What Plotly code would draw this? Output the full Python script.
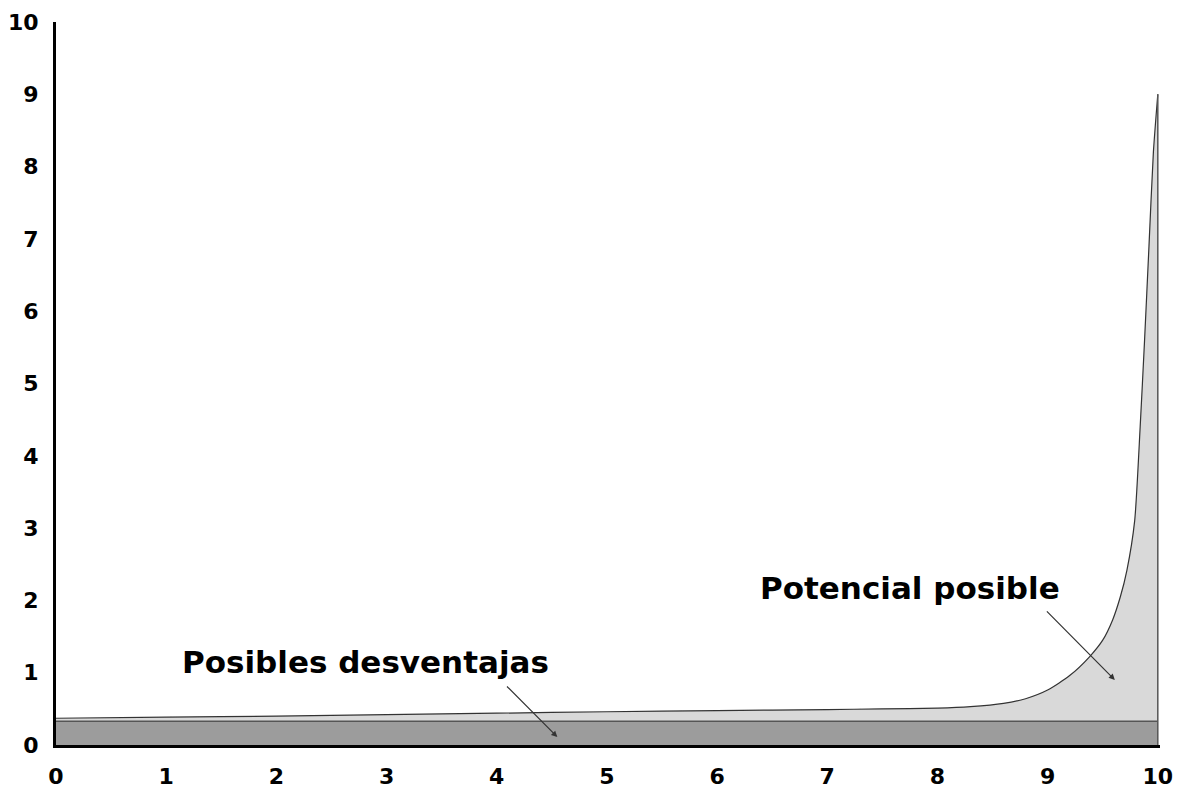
import plotly.graph_objects as go

# Data
band_x = [0, 10]
band_y = [0.33, 0.33]

curve_x = [0, 1, 2, 3, 4, 5, 6, 7, 7.5, 8, 8.3, 8.6, 8.8, 9.0, 9.2, 9.38, 9.5, 9.59, 9.66, 9.72, 9.79, 9.84, 9.88, 9.92, 9.96, 10]
curve_y = [0.37, 0.385, 0.40, 0.42, 0.44, 0.46, 0.475, 0.49, 0.50, 0.51, 0.53, 0.575, 0.64, 0.76, 0.96, 1.22, 1.45, 1.73, 2.05, 2.42, 3.1, 4.4, 5.6, 6.9, 8.2, 9.0]

x_ticks = list(range(0, 11))
y_ticks = list(range(0, 11))

label_low = "Posibles desventajas"
label_high = "Potencial posible"

fig = go.Figure()

fig.add_trace(go.Scatter(
    x=band_x, y=band_y, mode="lines", fill="tozeroy",
    fillcolor="#9c9c9c", line=dict(color="#555555", width=1.5),
    hoverinfo="skip", showlegend=False))

fig.add_trace(go.Scatter(
    x=curve_x, y=curve_y, mode="lines", fill="tonexty",
    fillcolor="#d9d9d9", line=dict(color="#333333", width=1.2, shape="spline", smoothing=0.6),
    hoverinfo="skip", showlegend=False))

fig.add_trace(go.Scatter(
    x=[curve_x[-1], curve_x[-1]], y=[0, curve_y[-1]], mode="lines",
    line=dict(color="#555555", width=1.5),
    hoverinfo="skip", showlegend=False))

font_ticks = dict(family="DejaVu Sans", size=22, color="black", weight="bold")
font_lbl = dict(family="DejaVu Sans", size=31, color="black", weight="bold")

fig.add_annotation(x=2.81, y=1.15, text=label_low, showarrow=False, font=font_lbl,
                   xref="x", yref="y")
fig.add_annotation(x=7.75, y=2.17, text=label_high, showarrow=False, font=font_lbl,
                   xref="x", yref="y")

fig.add_annotation(x=4.55, y=0.11, ax=4.08, ay=0.83, xref="x", yref="y",
                   axref="x", ayref="y", text="", showarrow=True,
                   arrowhead=2, arrowsize=1, arrowwidth=1.2, arrowcolor="#333333")
fig.add_annotation(x=9.61, y=0.90, ax=8.98, ay=1.87, xref="x", yref="y",
                   axref="x", ayref="y", text="", showarrow=True,
                   arrowhead=2, arrowsize=1, arrowwidth=1.2, arrowcolor="#333333")

fig.update_layout(
    width=1174, height=784,
    margin=dict(l=48, r=22, t=14, b=47),
    paper_bgcolor="white", plot_bgcolor="white",
    xaxis=dict(range=[0, 10.02], tickvals=x_ticks, showgrid=False, zeroline=False,
               showline=True, linecolor="black", linewidth=3, automargin=False,
               ticks="", tickfont=font_ticks, ticklabelstandoff=10),
    yaxis=dict(range=[0, 10], tickvals=y_ticks, showgrid=False, zeroline=False,
               showline=True, linecolor="black", linewidth=3, automargin=False,
               ticks="", tickfont=font_ticks, ticklabelstandoff=10),
)

fig.write_html("out.html")
